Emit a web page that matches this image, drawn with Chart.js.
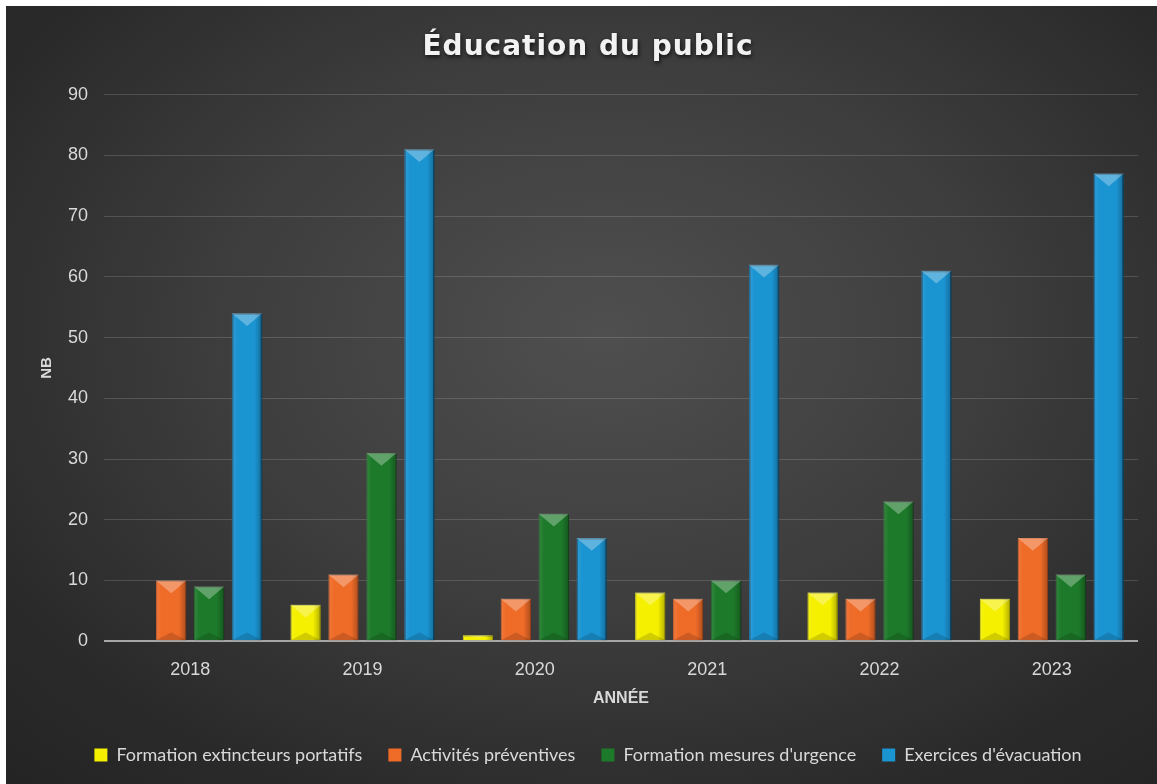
<!DOCTYPE html>
<html>
<head>
<meta charset="utf-8">
<script src="https://cdn.jsdelivr.net/npm/chart.js@4.4.0/dist/chart.umd.min.js"></script>
<style>
  html, body { margin: 0; padding: 0; background: #fff; }
  #wrap {
    position: absolute; left: 6px; top: 6px; width: 1151px; height: 778px;
    background: radial-gradient(ellipse 75% 80% at 52% 42%, #4f4f4f 0%, #3d3d3d 45%, #2a2a2a 80%, #242424 100%);
  }
</style>
</head>
<body>
<div id="wrap"><canvas id="chart" width="1151" height="778"></canvas></div>
<script>
// données
const years = ['2018', '2019', '2020', '2021', '2022', '2023'];
const extincteurs = [0, 6, 1, 8, 8, 7];
const preventives = [10, 11, 7, 7, 7, 17];
const urgence     = [9, 31, 21, 10, 23, 11];
const evacuation  = [54, 81, 17, 62, 61, 77];
const yTicks = [0, 10, 20, 30, 40, 50, 60, 70, 80, 90];

const TEXT = '#d9d9d9';

// petit effet "biseau" sur chaque barre, à partir des positions calculées par Chart.js
const bevel = {
  id: 'bevel',
  afterInit(chart) {
    // titre espacé avec ombre
    const tb = chart.titleBlock;
    if (!tb) return;
    const orig = tb.draw.bind(tb);
    tb.draw = function () {
      const c = chart.ctx;
      c.save();
      c.letterSpacing = '1px';
      c.shadowColor = 'rgba(0,0,0,0.7)';
      c.shadowBlur = 4;
      c.shadowOffsetX = 1;
      c.shadowOffsetY = 2;
      orig();
      c.restore();
    };
  },
  afterDatasetsDraw(chart) {
    const c = chart.ctx;
    chart.data.datasets.forEach((ds, i) => {
      const meta = chart.getDatasetMeta(i);
      meta.data.forEach(bar => {
        const w = bar.width, x0 = bar.x - w / 2, x1 = bar.x + w / 2;
        const top = bar.y, base = bar.base, h = base - top;
        if (h < 1) return;
        const d = Math.min(w * 0.42, h / 2);
        c.save();
        // bord gauche clair, bord droit sombre
        const g = c.createLinearGradient(x0, 0, x1, 0);
        g.addColorStop(0, 'rgba(255,255,255,0.10)');
        g.addColorStop(0.18, 'rgba(255,255,255,0.0)');
        g.addColorStop(0.75, 'rgba(0,0,0,0.0)');
        g.addColorStop(1, 'rgba(0,0,0,0.28)');
        c.fillStyle = g;
        c.fillRect(x0, top, w, h);
        // chevron haut
        c.fillStyle = 'rgba(255,255,255,0.30)';
        c.beginPath();
        c.moveTo(x0, top); c.lineTo(x1, top); c.lineTo(bar.x, top + d); c.closePath();
        c.fill();
        // chevron bas
        if (h > 2 * d) {
          c.fillStyle = 'rgba(0,0,0,0.15)';
          c.beginPath();
          c.moveTo(x0, base); c.lineTo(x1, base); c.lineTo(bar.x, base - d * 0.6); c.closePath();
          c.fill();
        }
        c.restore();
      });
    });
  }
};

new Chart(document.getElementById('chart').getContext('2d'), {
  type: 'bar',
  data: {
    labels: years,
    datasets: [
      { label: 'Formation extincteurs portatifs', data: extincteurs, backgroundColor: '#f5f000', borderColor: '#d8d400', borderWidth: 1 },
      { label: 'Activités préventives', data: preventives, backgroundColor: '#ef6b28', borderColor: '#c9531a', borderWidth: 1 },
      { label: "Formation mesures d'urgence", data: urgence, backgroundColor: '#1d7a2a', borderColor: '#145a1d', borderWidth: 1 },
      { label: "Exercices d'évacuation", data: evacuation, backgroundColor: '#1b94d2', borderColor: '#0d5f8c', borderWidth: 1.5 },
    ]
  },
  options: {
    responsive: false,
    animation: false,
    layout: { padding: { left: 32, right: 19, top: 8, bottom: 10 } },
    datasets: { bar: { categoryPercentage: 0.88, barPercentage: 0.8 } },
    plugins: {
      title: {
        display: true,
        text: 'Éducation du public',
        color: '#f2f2f2',
        font: { family: 'DejaVu Sans', size: 28, weight: 'bold' },
        padding: { top: 17, bottom: 30 }
      },
      legend: {
        position: 'bottom',
        labels: {
          color: TEXT,
          font: { family: 'Lato', size: 18 },
          boxWidth: 13, boxHeight: 13, padding: 26,
          generateLabels(chart) {
            return chart.data.datasets.map((ds, i) => ({
              text: ds.label, fillStyle: ds.backgroundColor, strokeStyle: ds.backgroundColor,
              lineWidth: 0, datasetIndex: i, fontColor: TEXT
            }));
          }
        }
      },
      tooltip: { enabled: false }
    },
    scales: {
      x: {
        grid: { display: false },
        border: { display: false },
        ticks: { color: TEXT, font: { family: 'Liberation Sans', size: 18 }, padding: 10 },
        title: { display: true, text: 'ANNÉE', color: TEXT, font: { family: 'Liberation Sans', size: 16, weight: 'bold' }, padding: { top: -2, bottom: 12 } }
      },
      y: {
        min: 0, max: 90,
        afterBuildTicks: s => { s.ticks = yTicks.map(v => ({ value: v })); },
        afterFit: s => { s.width = 66; },
        grid: {
          drawTicks: false,
          color: ctx => ctx.tick.value === 0 ? '#a6a6a6' : 'rgba(255,255,255,0.15)',
          lineWidth: ctx => ctx.tick.value === 0 ? 2 : 1
        },
        border: { display: false },
        ticks: { color: TEXT, font: { family: 'Liberation Sans', size: 18 }, padding: 16 },
        title: { display: true, text: 'NB', color: TEXT, font: { family: 'Liberation Sans', size: 15, weight: 'bold' }, padding: 0 }
      }
    }
  },
  plugins: [bevel]
});
</script>
</body>
</html>
